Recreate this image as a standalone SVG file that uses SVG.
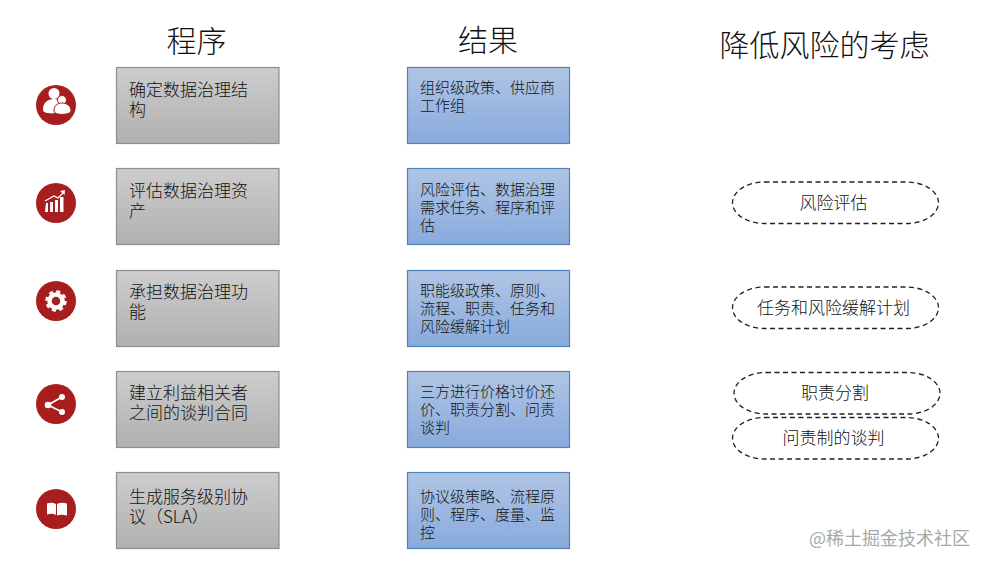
<svg xmlns="http://www.w3.org/2000/svg" width="987" height="566" viewBox="0 0 987 566">
<style>
text{font-family:"Noto Sans CJK SC","Liberation Sans",sans-serif;fill:#111}
.head{font-size:30px;text-anchor:middle;font-weight:300}
.g rect{fill:url(#gray);stroke:#8e8e8e;stroke-width:1.2}
.g text{font-size:17px;font-weight:300}
.b rect{fill:url(#blue);stroke:#4f81bd;stroke-width:1.2}
.b text{font-size:15px;font-weight:300}
.o rect{fill:#fff;stroke:#222;stroke-width:1.3;stroke-dasharray:5 3.5}
.o text{font-size:17px;text-anchor:middle;font-weight:300}
.ic circle.bg{fill:#a81e1e}
.w{fill:#fff}
.wl{fill:none;stroke:#fff}
</style>
<defs>
<linearGradient id="gray" x1="0" y1="0" x2="0" y2="1"><stop offset="0" stop-color="#cdcdcd"/><stop offset="1" stop-color="#b0b0b0"/></linearGradient>
<linearGradient id="blue" x1="0" y1="0" x2="0" y2="1"><stop offset="0" stop-color="#b0c5e5"/><stop offset="1" stop-color="#88aadc"/></linearGradient>
</defs>
<rect width="987" height="566" fill="#fff"/>
<g id="headers">
<text class="head" x="196.500" y="52">程序</text>
<text class="head" x="488" y="51">结果</text>
<text class="head" x="824.500" y="56">降低风险的考虑</text>
</g>
<g id="connectors"/>
<g id="icon1" class="ic"><circle class="bg" cx="56" cy="105" r="20"/>
<circle class="w" cx="54" cy="93.500" r="5.500"/><path class="w" d="M43 110c0-7 4-11 11-11 3 0 5 1 7 2-3 3-5 7-6 12-5 1-12 0-12-3z"/>
<circle class="w" cx="62" cy="100" r="4.500" stroke="#a81e1e"/><path class="w" stroke="#a81e1e" d="M54 111c0-5 3-8 8-8s9 3 9 8c0 4-17 5-17 0z"/></g>
<g id="icon2" class="ic"><circle class="bg" cx="56" cy="203" r="20"/>
<path class="w" d="M46 203l-1 9h3v-9zM50 202h3v10h-3zM55 200h3v12h-3zM60 197h3.500v15H60z"/><path class="wl" stroke-width="1.300" d="M45 201l9-5 4 2 5-5"/><path class="w" d="M60 191l5-1-.5 5z"/></g>
<g id="icon3" class="ic"><circle class="bg" cx="56" cy="301" r="20"/>
<circle class="wl" cx="56" cy="301" r="6.500" stroke-width="4.500"/><circle class="wl" cx="56" cy="301" r="9.500" stroke-width="2.500" stroke-dasharray="4 3.460"/></g>
<g id="icon4" class="ic"><circle class="bg" cx="56" cy="404" r="20"/>
<path class="wl" stroke-width="1.800" d="M62 397L48 405l14 7"/><circle class="w" cx="62" cy="397" r="3"/><circle class="w" cx="48" cy="405" r="3.300"/><circle class="w" cx="62" cy="412" r="3"/></g>
<g id="icon5" class="ic"><circle class="bg" cx="56" cy="509" r="20"/>
<path class="w" d="M47 503.500c3-1 6-1 9 .5v11c-3-1.500-6-1.500-9-.5zM57 504c3-1.500 6-1.500 10-.5v12c-4-1-7-1-10 0z"/></g>

<g id="p1" class="g"><rect x="116.500" y="67.500" width="162.500" height="76"/><text x="129" y="96">确定数据治理结<tspan x="129" dy="20">构</tspan></text></g>
<g id="p2" class="g"><rect x="116.500" y="168.500" width="162.500" height="76"/><text x="129" y="197">评估数据治理资<tspan x="129" dy="20">产</tspan></text></g>
<g id="p3" class="g"><rect x="116.500" y="270.500" width="162.500" height="76"/><text x="129" y="298">承担数据治理功<tspan x="129" dy="20">能</tspan></text></g>
<g id="p4" class="g"><rect x="116.500" y="371.500" width="162.500" height="76"/><text x="129" y="399">建立利益相关者<tspan x="129" dy="20">之间的谈判合同</tspan></text></g>
<g id="p5" class="g"><rect x="116.500" y="472.500" width="162.500" height="76"/><text x="129" y="503">生成服务级别协<tspan x="129" dy="20">议（SLA）</tspan></text></g>

<g id="r1" class="b"><rect x="407.500" y="67.500" width="162" height="76"/><text x="420" y="93">组织级政策、供应商<tspan x="420" dy="18">工作组</tspan></text></g>
<g id="r2" class="b"><rect x="407.500" y="168.500" width="162" height="76"/><text x="420" y="195">风险评估、数据治理<tspan x="420" dy="18">需求任务、程序和评</tspan><tspan x="420" dy="18">估</tspan></text></g>
<g id="r3" class="b"><rect x="407.500" y="270.500" width="162" height="76"/><text x="420" y="296">职能级政策、原则、<tspan x="420" dy="18">流程、职责、任务和</tspan><tspan x="420" dy="18">风险缓解计划</tspan></text></g>
<g id="r4" class="b"><rect x="407.500" y="371.500" width="162" height="76"/><text x="420" y="397">三方进行价格讨价还<tspan x="420" dy="18">价、职责分割、问责</tspan><tspan x="420" dy="18">谈判</tspan></text></g>
<g id="r5" class="b"><rect x="407.500" y="472.500" width="162" height="76"/><text x="420" y="502">协议级策略、流程原<tspan x="420" dy="18">则、程序、度量、监</tspan><tspan x="420" dy="18">控</tspan></text></g>

<g id="m1" class="o"><rect x="732.500" y="182" width="206" height="41.500" rx="32" ry="20.750"/><text x="833.500" y="209">风险评估</text></g>
<g id="m2" class="o"><rect x="732.500" y="287" width="206" height="41.500" rx="32" ry="20.750"/><text x="833.500" y="314">任务和风险缓解计划</text></g>
<g id="m3" class="o"><rect x="734" y="372.500" width="206" height="41.500" rx="32" ry="20.750"/><text x="835" y="399">职责分割</text></g>
<g id="m4" class="o"><rect x="732.500" y="417.500" width="206" height="41.500" rx="32" ry="20.750"/><text x="833.500" y="444">问责制的谈判</text></g>
<text id="watermark" x="809" y="545" style="font-size:18px;fill:#9a9a9a;font-weight:400" opacity=".85">@稀土掘金技术社区</text>
</svg>
